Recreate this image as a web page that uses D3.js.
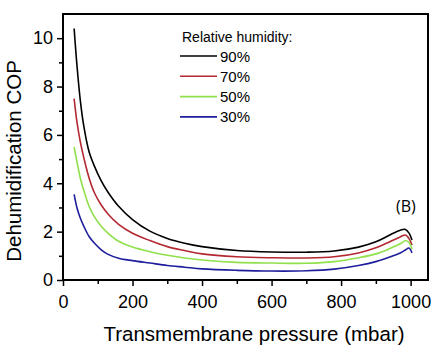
<!DOCTYPE html>
<html lang="en">
<head>
<meta charset="UTF-8">
<title>Dehumidification COP</title>
<script src="https://d3js.org/d3.v7.min.js"></script>
<style>
    body { margin: 0; background: #fff; }
    text { font-family: "Liberation Sans", Arial, sans-serif; fill: #000; }
</style>
</head>
<body>
<div id="chart"></div>
<script>
    // pressure (mbar) sampled along the curves
    var pressure = [32, 40, 50, 60, 75, 90, 110, 130, 160, 200, 250, 300, 350, 400, 500, 600, 700, 780, 850, 900, 940, 970, 985, 995, 1004];
    var rh90 = [10.4, 8.9, 7.4, 6.35, 5.3, 4.72, 4.1, 3.62, 3.05, 2.5, 2.02, 1.72, 1.52, 1.38, 1.22, 1.16, 1.15, 1.2, 1.36, 1.58, 1.86, 2.06, 2.09, 1.95, 1.65];
    var rh70 = [7.5, 6.55, 5.7, 5.05, 4.22, 3.62, 3.1, 2.72, 2.3, 1.93, 1.63, 1.38, 1.22, 1.08, 0.96, 0.92, 0.91, 0.96, 1.12, 1.33, 1.58, 1.78, 1.86, 1.72, 1.45];
    var rh50 = [5.5, 4.9, 4.2, 3.7, 3.05, 2.62, 2.22, 1.93, 1.6, 1.36, 1.17, 1.02, 0.91, 0.83, 0.73, 0.7, 0.69, 0.76, 0.92, 1.08, 1.3, 1.5, 1.62, 1.56, 1.27];
    var rh30 = [3.54, 3.0, 2.55, 2.22, 1.8, 1.53, 1.25, 1.06, 0.9, 0.8, 0.7, 0.6, 0.53, 0.46, 0.4, 0.37, 0.38, 0.45, 0.6, 0.76, 0.95, 1.12, 1.24, 1.32, 1.12];

    var seriesNames = ["90%", "70%", "50%", "30%"];
    var seriesColors = ["#000000", "#b42832", "#8fe04a", "#1e1e9c"];
    var xTicks = [0, 200, 400, 600, 800, 1000];
    var yTicks = [0, 2, 4, 6, 8, 10];

    var width = 439, height = 352;
    var margin = {top: 14, right: 11, bottom: 72, left: 63};

    var svg = d3.select("#chart").append("svg")
        .attr("width", width)
        .attr("height", height);

    var x = d3.scaleLinear().domain([0, 1050]).range([margin.left, width - margin.right]);
    var y = d3.scaleLinear().domain([0, 11]).range([height - margin.bottom, margin.top]);

    // minor ticks
    svg.append("g")
        .attr("transform", "translate(0," + y(0) + ")")
        .call(d3.axisBottom(x).tickValues(d3.range(100, 1001, 200)).tickSize(4).tickFormat(""))
        .call(g => g.select(".domain").remove())
        .selectAll("line").attr("stroke-width", 1.5);
    svg.append("g")
        .attr("transform", "translate(" + x(0) + ",0)")
        .call(d3.axisLeft(y).tickValues(d3.range(1, 11, 2)).tickSize(4).tickFormat(""))
        .call(g => g.select(".domain").remove())
        .selectAll("line").attr("stroke-width", 1.5);

    // major ticks
    var xAxis = svg.append("g")
        .attr("transform", "translate(0," + y(0) + ")")
        .call(d3.axisBottom(x).tickValues(xTicks).tickFormat(d3.format("d")).tickSize(6).tickPadding(6));
    xAxis.select(".domain").remove();
    xAxis.selectAll("line").attr("stroke-width", 1.5);
    xAxis.selectAll("text").style("font-size", "18px").attr("dy", "0.9em");

    var yAxis = svg.append("g")
        .attr("transform", "translate(" + x(0) + ",0)")
        .call(d3.axisLeft(y).tickValues(yTicks).tickSize(6).tickPadding(4));
    yAxis.select(".domain").remove();
    yAxis.selectAll("line").attr("stroke-width", 1.5);
    yAxis.selectAll("text").style("font-size", "18px");

    // frame
    svg.append("rect")
        .attr("x", x(0))
        .attr("y", margin.top)
        .attr("width", width - margin.right - x(0))
        .attr("height", y(0) - margin.top)
        .attr("fill", "none")
        .attr("stroke", "#000")
        .attr("stroke-width", 2);

    var line = d3.line()
        .x(d => x(d[0]))
        .y(d => y(d[1]))
        .curve(d3.curveCatmullRom.alpha(0.5));

    [rh90, rh70, rh50, rh30].forEach(function(vals, i) {
        svg.append("path")
            .datum(pressure.map((p, j) => [p, vals[j]]))
            .attr("fill", "none")
            .attr("stroke", seriesColors[i])
            .attr("stroke-width", 1.6)
            .attr("d", line);
    });

    // legend
    var legend = svg.append("g");
    legend.append("text")
        .attr("x", 182).attr("y", 42)
        .style("font-size", "14px")
        .text("Relative humidity:");
    seriesNames.forEach(function(name, i) {
        var ly = 56 + i * 20.3;
        legend.append("line")
            .attr("x1", 180).attr("x2", 217)
            .attr("y1", ly).attr("y2", ly)
            .attr("stroke", seriesColors[i])
            .attr("stroke-width", 1.6);
        legend.append("text")
            .attr("x", 220).attr("y", ly + 5.5)
            .style("font-size", "15px")
            .text(name);
    });

    svg.append("text")
        .attr("x", 396).attr("y", 212)
        .style("font-family", "'Open Sans', sans-serif")
        .style("font-size", "16px")
        .text("(B)");

    // axis titles
    svg.append("text")
        .attr("x", 254)
        .attr("y", 341)
        .attr("text-anchor", "middle")
        .style("font-size", "20.5px")
        .text("Transmembrane pressure (mbar)");

    svg.append("text")
        .attr("transform", "translate(21," + 161 + ") rotate(-90)")
        .attr("text-anchor", "middle")
        .style("font-size", "20.5px")
        .text("Dehumidification COP");
</script>
</body>
</html>
